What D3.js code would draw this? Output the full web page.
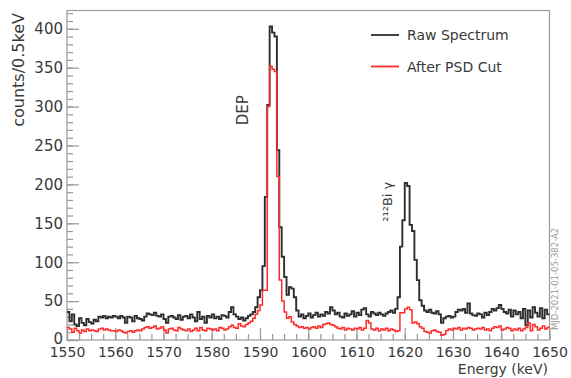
<!DOCTYPE html>
<html>
<head>
<meta charset="utf-8">
<script src="https://cdn.jsdelivr.net/npm/d3@7"></script>
<style>
body { margin: 0; background: #fff; }
svg { display: block; }
text { font-family: "DejaVu Sans", sans-serif; fill: #3a3a3a; }
</style>
</head>
<body>
<svg id="chart" width="571" height="378"></svg>
<script>
// histogram: 0.5 keV bins from 1550 to 1650 keV (200 bins, one row = 5 keV)
var binStart = 1550;
var binWidth = 0.5;
var xTicks = [1550, 1560, 1570, 1580, 1590, 1600, 1610, 1620, 1630, 1640, 1650];
var yTicks = [0, 50, 100, 150, 200, 250, 300, 350, 400];
var seriesNames = ["Raw Spectrum", "After PSD Cut"];
var peakNames = ["DEP", "\u00B2\u00B9\u00B2Bi \u03B3"];

var rawCounts = [
    36, 24, 33, 20, 18, 28, 22, 19, 27, 23,
    21, 26, 24, 30, 29, 31, 28, 30, 29, 31,
    30, 28, 31, 29, 22, 30, 29, 24, 31, 28,
    27, 25, 30, 34, 33, 32, 35, 31, 30, 33,
    27, 22, 30, 31, 29, 27, 32, 26, 30, 31,
    28, 33, 29, 24, 36, 27, 30, 22, 31, 29,
    33, 28, 30, 27, 32, 31, 29, 36, 42, 33,
    30, 27, 29, 25, 28, 31, 33, 36, 42, 55,
    64, 95, 184, 302, 403, 395, 390, 244, 145, 107,
    81, 58, 68, 66, 55, 38, 30, 33, 28, 31,
    34, 29, 32, 35, 30, 33, 31, 36, 34, 42,
    38, 33, 35, 30, 29, 34, 31, 33, 37, 30,
    35, 32, 39, 41, 33, 30, 36, 34, 32, 35,
    33, 31, 34, 36, 38, 35, 40, 55, 120, 154,
    202, 198, 148, 140, 103, 77, 51, 44, 38, 36,
    39, 35, 34, 37, 33, 22, 28, 30, 31, 29,
    30, 36, 39, 38, 40, 35, 47, 34, 32, 31,
    34, 33, 29, 35, 32, 36, 40, 38, 41, 45,
    40, 36, 34, 39, 30, 38, 33, 36, 28, 40,
    19, 38, 29, 42, 35, 30, 41, 28, 39, 33
];

var psdCounts = [
    16, 14, 10, 15, 12, 9, 13, 11, 14, 12,
    13, 12, 11, 14, 15, 13, 14, 13, 12, 12,
    11, 13, 12, 10, 9, 11, 12, 10, 12, 13,
    12, 14, 16, 17, 15, 16, 18, 14, 15, 17,
    13, 9, 14, 15, 13, 12, 16, 14, 13, 12,
    14, 11, 13, 15, 12, 16, 13, 12, 15, 14,
    13, 14, 12, 16, 15, 13, 14, 17, 19, 16,
    15, 21, 18, 17, 20, 22, 24, 28, 33, 38,
    45, 64, 64, 300, 352, 348, 345, 210, 77, 50,
    36, 28, 30, 23, 20, 18, 16, 17, 15, 16,
    14, 16, 17, 15, 18, 16, 20, 21, 22, 20,
    19, 17, 15, 14, 16, 13, 15, 14, 13, 15,
    14, 16, 13, 15, 25, 22, 14, 13, 15, 12,
    14, 13, 15, 12, 14, 13, 11, 12, 35, 35,
    40, 42, 39, 22, 23, 21, 17, 15, 11, 10,
    9, 12, 13, 11, 10, 6, 7, 12, 14, 13,
    15, 14, 16, 13, 15, 14, 16, 15, 13, 14,
    15, 14, 16, 13, 14, 12, 15, 17, 16, 18,
    13, 14, 16, 15, 12, 14, 13, 15, 12, 14,
    16, 22, 12, 20, 17, 13, 15, 18, 14, 16
];

var padLeft = 67, padRight = 549.5, padTop = 10.5, padBottom = 340;

var x = d3.scaleLinear().domain([1550, 1650]).range([padLeft, padRight]);
var y = d3.scaleLinear().domain([0, 423.5]).range([padBottom, padTop]);

const svg = d3.select('#chart');

// minor ticks
svg.append('g')
    .attr('transform', 'translate(' + padLeft + ',0)')
    .call(d3.axisLeft(y).tickValues(d3.range(0, 421, 10)).tickSize(-6).tickFormat(''));
svg.append('g')
    .attr('transform', 'translate(0,' + padBottom + ')')
    .call(d3.axisBottom(x).tickValues(d3.range(1550, 1650.1, 2.5)).tickSize(-6).tickFormat(''));

// major ticks + labels
var yAxis = svg.append('g')
    .attr('transform', 'translate(' + padLeft + ',0)')
    .call(d3.axisLeft(y).tickValues(yTicks).tickSize(-12).tickPadding(4));
var xAxis = svg.append('g')
    .attr('transform', 'translate(0,' + padBottom + ')')
    .call(d3.axisBottom(x).tickValues(xTicks).tickSize(-12).tickPadding(7.5).tickFormat(d3.format('d')));

svg.selectAll('.domain').remove();
svg.selectAll('.tick line').attr('stroke', '#9a9a9a').attr('stroke-width', 1.2);
yAxis.selectAll('text').style('font-size', '15px').style('font-family', '"DejaVu Sans", sans-serif').attr('fill', '#3a3a3a');
xAxis.selectAll('text').style('font-size', '14px').style('font-family', '"DejaVu Sans", sans-serif').attr('fill', '#3a3a3a');
// bottom "0" sits a bit higher so it clears the 1550 label
yAxis.selectAll('.tick text').filter(function (d) { return d == 0; }).attr('dy', '0.2em');

// frame
svg.append('rect')
    .attr('x', padLeft).attr('y', padTop)
    .attr('width', padRight - padLeft).attr('height', padBottom - padTop)
    .attr('fill', 'none').attr('stroke', '#9a9a9a').attr('stroke-width', 1.2);

// axis titles
svg.append('text')
    .attr('transform', 'translate(24,13) rotate(-90)')
    .attr('text-anchor', 'end')
    .style('font-size', '16px')
    .text('counts/0.5keV');
svg.append('text')
    .attr('x', 548).attr('y', 374)
    .attr('text-anchor', 'end')
    .style('font-size', '14px')
    .text('Energy (keV)');

// histograms
function histPoints(counts) {
    var pts = counts.map(function (c, i) { return [binStart + i * binWidth, c]; });
    pts.push([binStart + counts.length * binWidth, counts[counts.length - 1]]);
    return pts;
}
var line = d3.line()
    .x(function (d) { return x(d[0]); })
    .y(function (d) { return y(d[1]); })
    .curve(d3.curveStepAfter);

var colors = ['#2e2e2e', '#ff2a2a'];
[rawCounts, psdCounts].forEach(function (counts, k) {
    svg.append('path')
        .attr('d', line(histPoints(counts)))
        .attr('fill', 'none')
        .attr('stroke', colors[k])
        .attr('stroke-width', k == 0 ? 1.9 : 1.5);
});

// peak labels
svg.append('text')
    .attr('transform', 'translate(' + x(1587.6) + ',' + y(276) + ') rotate(-90)')
    .style('font-size', '15px')
    .text(peakNames[0]);
svg.append('text')
    .attr('transform', 'translate(' + x(1617.4) + ',' + y(152) + ') rotate(-90)')
    .style('font-size', '13px')
    .text(peakNames[1]);

// legend
seriesNames.forEach(function (name, k) {
    var ly = 35 + k * 31.5;
    svg.append('line')
        .attr('x1', 371).attr('x2', 399)
        .attr('y1', ly).attr('y2', ly)
        .attr('stroke', colors[k]).attr('stroke-width', 1.8);
    svg.append('text')
        .attr('x', 407).attr('y', ly + 5)
        .style('font-size', '14px')
        .text(name);
});

// run stamp on right margin
svg.append('text')
    .attr('transform', 'translate(558,330) rotate(-90)')
    .style('font-size', '8.5px')
    .style('fill', '#999')
    .text('MJD-2021-01-05-382-A2');
</script>
</body>
</html>
